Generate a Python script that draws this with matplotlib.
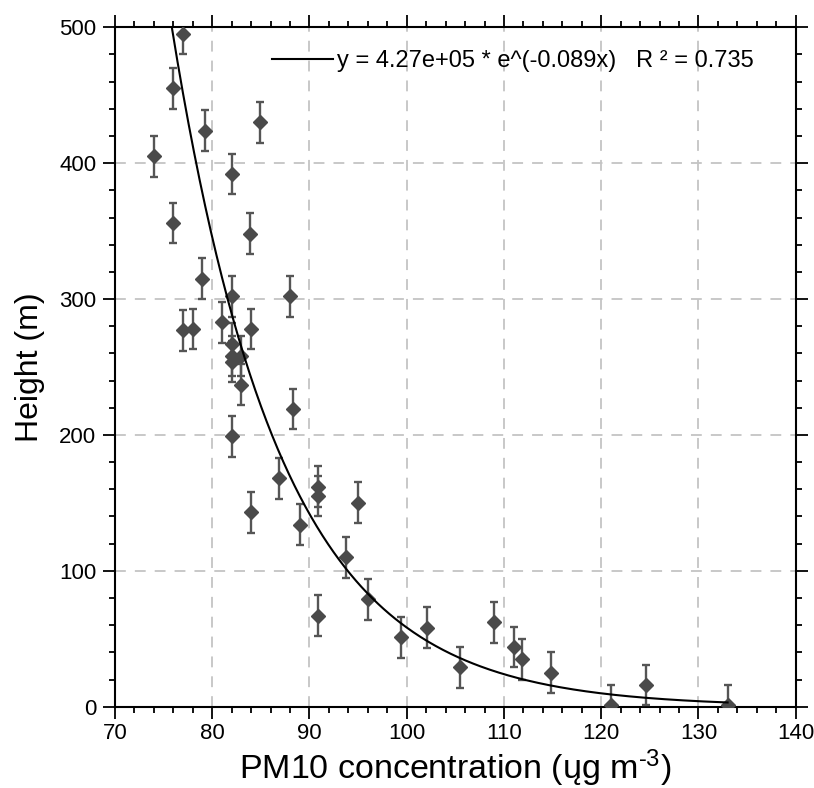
import numpy as np
import matplotlib
matplotlib.use("Agg")
import matplotlib.pyplot as plt
from matplotlib.ticker import MultipleLocator

plt.rcParams['font.family'] = ['Liberation Sans', 'DejaVu Sans']
plt.rcParams['mathtext.fontset'] = 'custom'
plt.rcParams['mathtext.rm'] = 'Liberation Sans'
plt.rcParams['mathtext.it'] = 'Liberation Sans:italic'

# PM10 concentration (x) and height (y)
pm10 = [77.0, 76.0, 79.3, 84.9, 74.0, 82.0, 76.0, 83.9,
        78.9, 82.0, 88.0, 81.0, 77.0, 78.0, 84.0, 82.0,
        82.0, 82.0, 83.0, 83.0, 88.3, 82.0, 86.9, 84.0,
        90.9, 90.9, 95.0, 89.0, 93.8, 96.0, 90.9, 99.4,
        102.1, 105.5, 109.0, 111.0, 111.9, 114.8, 121.0, 124.6, 133.0]
height = [495, 455, 424, 430, 405, 392, 356, 348,
          315, 302, 302, 283, 277, 278, 278, 267,
          258, 254, 258, 237, 219, 199, 168, 143,
          162, 155, 150, 134, 110, 79, 67, 51,
          58, 29, 62, 44, 35, 25, 1, 16, 1]
err = 15

# exponential fit parameters shown in the legend
fit_a = 4.27e5
fit_b = -0.089
fit_r2 = 0.735

fig = plt.figure(figsize=(8.14, 7.88), dpi=100)
ax = fig.add_axes([0.1413, 0.1032, 0.8362, 0.8622])

ax.errorbar(pm10, height, yerr=err, fmt='D', color='#4a4a4a', ecolor='#555555',
            markersize=7, elinewidth=1.7, capsize=3.2, capthick=1.7, zorder=3)

xfit = np.linspace(np.log(500 / fit_a) / fit_b, max(pm10), 300)
ax.plot(xfit, fit_a * np.exp(fit_b * xfit), color='black', lw=1.5, zorder=4,
        label='y = 4.27e+05 * e^(-0.089x)   R \u00b2 = %.3f' % fit_r2)

ax.set_xlim(70, 140)
ax.set_ylim(0, 500)
ax.xaxis.set_major_locator(MultipleLocator(10))
ax.xaxis.set_minor_locator(MultipleLocator(2))
ax.yaxis.set_major_locator(MultipleLocator(100))
ax.yaxis.set_minor_locator(MultipleLocator(20))

ax.grid(True, which='major', color='#c4c4c4', linestyle=(0, (6, 5)), lw=1.3)
ax.set_axisbelow(True)

for s in ax.spines.values():
    s.set_linewidth(1.5)
ax.tick_params(which='both', direction='out', top=True, right=True, width=1.3,
               labelsize=16, labeltop=False, labelright=False)
ax.tick_params(which='major', length=8.5)
ax.tick_params(which='minor', length=4.5)
ax.tick_params(axis='y', which='major', pad=5)

ax.set_xlabel('PM10 concentration (\u0173g m$\\mathregular{^{\\text{-}3}}$)',
              fontsize=24.5, labelpad=2)
ax.set_ylabel('Height (m)', fontsize=23, labelpad=10)

ax.legend(loc='upper left', bbox_to_anchor=(0.2, 0.998), frameon=False,
          fontsize=17, handlelength=2.55, handletextpad=0.2)

fig.savefig('out.png', dpi=100)
